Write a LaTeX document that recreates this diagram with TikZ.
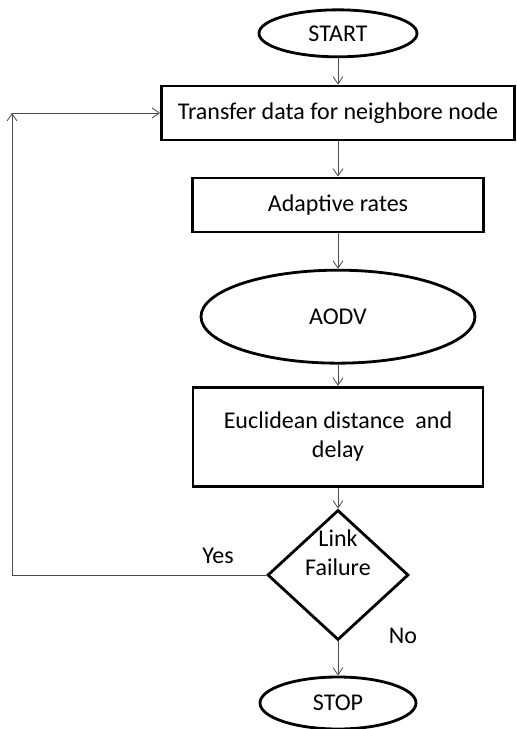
\documentclass[tikz,border=0pt]{standalone}
\usepackage{fontspec}
\setmainfont{Carlito}
\usetikzlibrary{shapes.geometric, arrows.meta}

\tikzset{
    block/.style={rectangle, draw, line width=2.4pt, inner sep=0pt, align=center},
    term/.style={ellipse, draw, line width=2.4pt, inner sep=0pt},
    decide/.style={diamond, draw, line width=2.4pt, inner sep=0pt, minimum width=4.23cm, minimum height=3.9cm},
    link/.style={black!70, line width=0.7pt, -{Straight Barb[length=2.2mm, width=3mm]}},
}

\begin{document}
\begin{tikzpicture}[font=\fontsize{20.5}{24.5}\selectfont]
    \useasboundingbox (0, 0) rectangle (15.51, -21.87);

    \node[term, minimum width=4.74cm, minimum height=1.41cm] (start) at (10.14, -1.0) {START};
    \node[block, minimum width=10.59cm, minimum height=1.62cm] (transfer) at (10.14, -3.39) {Transfer data for neighbore node};
    \node[block, minimum width=8.73cm, minimum height=1.62cm] (rates) at (10.14, -6.15) {Adaptive rates};
    \node[term, minimum width=8.22cm, minimum height=2.79cm] (aodv) at (10.14, -9.5) {AODV};
    \node[block, minimum width=8.7cm, minimum height=2.97cm] (dist) at (10.14, -13.1) {Euclidean distance~ and\\delay};
    \node[decide] (fail) at (10.14, -17.25) {};
    \node[align=center] at ([yshift=0.66cm]fail.center) {Link\\Failure};
    \node[term, minimum width=4.68cm, minimum height=1.56cm] (stop) at (10.14, -21.09) {STOP};

    \coordinate (back) at (0.36, -17.25);
    \coordinate (up) at (0.36, -3.39);

    \draw[link] (start) -- (transfer);
    \draw[link] (transfer) -- (rates);
    \draw[link] (rates) -- (aodv);
    \draw[link] (aodv) -- (dist);
    \draw[link] (dist) -- (fail);
    \draw[link] (fail) -- (stop);
    \draw[link, -] (fail.west) -- (back);
    \draw[link] (back) -- (up);
    \draw[link] (up) -- (transfer.west);

    \node (yes) at (6.54, -16.68) {Yes};
    \node (no) at (12.09, -19.08) {No};
\end{tikzpicture}
\end{document}
